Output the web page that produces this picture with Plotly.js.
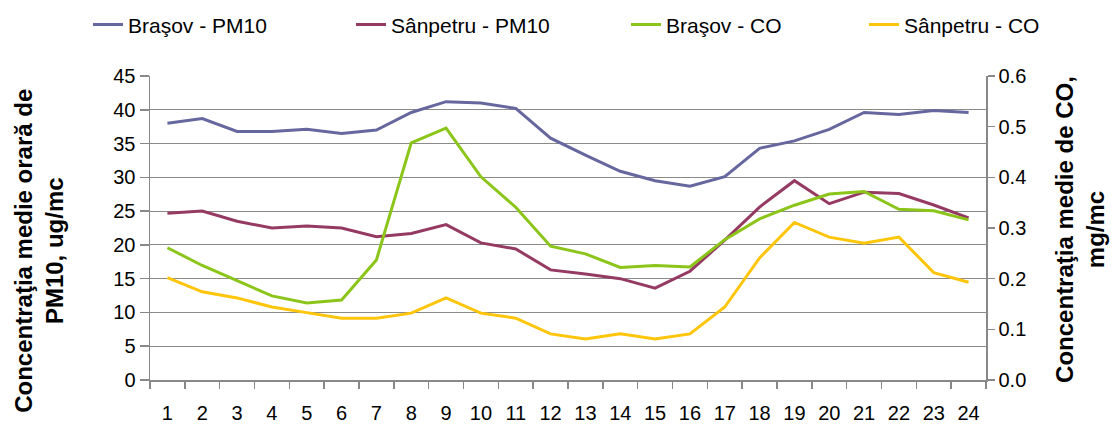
<!DOCTYPE html>
<html><head><meta charset="utf-8">
<script src="https://cdn.plot.ly/plotly-3.0.1.min.js"></script>
<style>html,body{margin:0;padding:0;background:#fff}#c{width:1113px;height:428px}</style>
</head><body><div id="c"></div>
<script>
const hours = ['1','2','3','4','5','6','7','8','9','10','11','12','13','14','15','16','17','18','19','20','21','22','23','24'];
const brasovPM10 = [38.0,38.7,36.8,36.8,37.1,36.5,37.0,39.6,41.2,41.0,40.2,35.8,33.3,30.9,29.5,28.7,30.1,34.3,35.4,37.1,39.6,39.3,39.9,39.6];
const sanpetruPM10 = [24.7,25.0,23.5,22.5,22.8,22.5,21.2,21.7,23.0,20.3,19.4,16.3,15.7,15.0,13.6,16.1,20.7,25.6,29.5,26.1,27.8,27.6,25.9,24.0];
const brasovCO = [0.261,0.226,0.196,0.166,0.152,0.158,0.237,0.468,0.497,0.401,0.341,0.264,0.249,0.222,0.226,0.223,0.277,0.318,0.345,0.367,0.372,0.337,0.334,0.316];
const sanpetruCO = [0.202,0.174,0.162,0.144,0.133,0.122,0.122,0.132,0.162,0.132,0.122,0.091,0.081,0.091,0.081,0.091,0.144,0.241,0.311,0.282,0.270,0.282,0.212,0.193];
const names = ['Braşov - PM10','Sânpetru - PM10','Braşov - CO','Sânpetru - CO'];
const colors = ['#65679E','#953A62','#8CC51A','#FFC50A'];
const leftTitle = 'Concentraţia medie orară de<br>PM10, ug/mc';
const rightTitle = 'Concentraţia medie de CO,<br>mg/mc';

const data = [
  {x:hours,y:brasovPM10,name:names[0],line:{color:colors[0],width:3},mode:'lines',type:'scatter',legend:'legend'},
  {x:hours,y:sanpetruPM10,name:names[1],line:{color:colors[1],width:3},mode:'lines',type:'scatter',legend:'legend2'},
  {x:hours,y:brasovCO,name:names[2],line:{color:colors[2],width:3},mode:'lines',type:'scatter',yaxis:'y2',legend:'legend3'},
  {x:hours,y:sanpetruCO,name:names[3],line:{color:colors[3],width:3},mode:'lines',type:'scatter',yaxis:'y2',legend:'legend4'}
];
const F = 'Liberation Sans, Arial, sans-serif';
function leg(px){return {orientation:'h',x:px/1113,xanchor:'left',xref:'container',y:0.99,yanchor:'top',yref:'container',font:{size:21,color:'#000'},bgcolor:'rgba(0,0,0,0)'};}
const layout = {
  width:1113,height:428,
  margin:{l:150,r:127,t:76,b:48},
  paper_bgcolor:'#fff',plot_bgcolor:'#fff',
  font:{family:F,size:20,color:'#000'},
  showlegend:true,
  legend:leg(88),legend2:leg(351),legend3:leg(626),legend4:leg(864),
  xaxis:{type:'category',range:[-0.5,23.5],tickson:'boundaries',ticks:'outside',ticklen:7,tickcolor:'#888',tickwidth:1.5,showline:true,linecolor:'#888',linewidth:1.5,showgrid:false,zeroline:false,tickfont:{size:20},ticklabelstandoff:14},
  yaxis:{range:[0,45],dtick:5,tick0:0,ticks:'outside',ticklen:9,tickcolor:'#888',tickwidth:1.5,showline:true,linecolor:'#888',linewidth:1.5,gridcolor:'#8a8a8a',gridwidth:1.2,zeroline:false,tickfont:{size:20}},
  yaxis2:{overlaying:'y',side:'right',range:[0,0.6],dtick:0.1,tick0:0,tickformat:'.1f',ticks:'outside',ticklen:7,tickcolor:'#888',tickwidth:1.5,showline:true,linecolor:'#888',linewidth:1.5,showgrid:false,zeroline:false,tickfont:{size:20}},
  annotations:[
    {text:'<b>'+leftTitle+'</b>',xref:'paper',yref:'paper',x:-0.1328,y:0.425,xanchor:'center',yanchor:'middle',textangle:-90,showarrow:false,font:{size:24,color:'#000'}},
    {text:'<b>'+rightTitle+'</b>',xref:'paper',yref:'paper',x:1.1124,y:0.497,xanchor:'center',yanchor:'middle',textangle:-90,showarrow:false,font:{size:24,color:'#000'}}
  ]
};
Plotly.newPlot('c',data,layout,{displayModeBar:false,staticPlot:true});
</script></body></html>
